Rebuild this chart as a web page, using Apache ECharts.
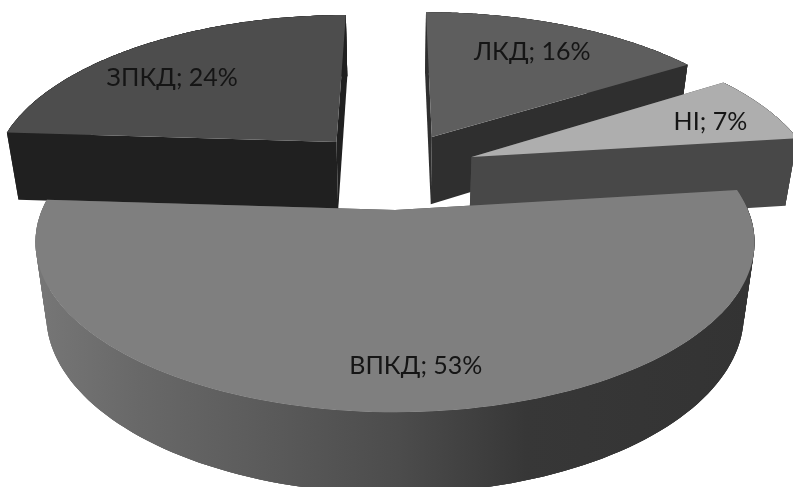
<!DOCTYPE html>
<html><head><meta charset="utf-8">
<style>html,body{margin:0;padding:0;background:#fff}#c{width:793px;height:487px}</style>
<script src="https://cdn.jsdelivr.net/npm/echarts@6/dist/echarts.min.js"></script>
</head><body><div id="c"></div>
<script>
// --- data ---
const categories = ['ЛКД', 'HI', 'ВПКД', 'ЗПКД'];
const shares = [16, 7, 53, 24];

// --- styles ---
const topColors = ['#5e5e5e', '#aeaeae', '#7f7f7f', '#4d4d4d'];
const wallColors = ['#2f2f2f', '#484848', '#4c4c4c', '#202020'];
// exploded offset, disc scale and label place of each slice, in pie-disc units
const explode = [[0.114, -0.487], [0.231, -0.345], [0, 0], [-0.18, -0.451]];
const discScale = [[1.045, 1.08], [1.02, 1.06], [1, 1], [1.03, 1.087]];
const labelAt = [[0.362, -0.694], [0.764, -0.253], [0.05, 0.806], [-0.565, -0.5]];

// --- projection of the pie plane ---
const VIEW = { cx: 395, cy: 210, rx: 353, ry: 163.8, k: -0.19, depth: 71, sx: 0.97, sy: 1.05 };
function project(u, v, bottom) {
  const d = 1 + VIEW.k * v;
  const px = VIEW.rx * u / d, py = VIEW.ry * v / d;
  return bottom
    ? [VIEW.cx + px * VIEW.sx, VIEW.cy + VIEW.depth + py * VIEW.sy]
    : [VIEW.cx + px, VIEW.cy + py];
}
const total = shares.reduce((a, b) => a + b, 0);
const bigWall = new echarts.graphic.LinearGradient(40, 0, 755, 0, [
  { offset: 0, color: '#767676' },
  { offset: 0.14, color: '#686868' },
  { offset: 0.3, color: '#5c5c5c' },
  { offset: 0.5, color: '#4c4c4c' },
  { offset: 0.68, color: '#373737' },
  { offset: 1, color: '#333333' }
], true);

function renderItem(params, api) {
  const i = params.dataIndex;
  let before = 0;
  for (let j = 0; j < i; j++) before += shares[j];
  const a0 = before / total * Math.PI * 2;
  const a1 = (before + api.value(1)) / total * Math.PI * 2;
  const [ou, ov] = explode[i];
  const [su, sv] = discScale[i];
  const base = Math.round((ov + 1) * 10) * 10;
  const rim = (bottom) => {
    const pts = [];
    const n = 120;
    for (let s = 0; s <= n; s++) {
      const a = a0 + (a1 - a0) * s / n;
      pts.push(project(ou + su * Math.sin(a), ov - sv * Math.cos(a), bottom));
    }
    return pts;
  };
  const rimTop = rim(false), rimBot = rim(true);
  const apexTop = project(ou, ov, false), apexBot = project(ou, ov, true);
  const poly = (points, fill, z2) => ({
    type: 'polygon', z2: base + z2, shape: { points }, style: { fill }
  });
  const isBig = api.value(1) / total > 0.5;
  const last = rimTop.length - 1;
  const children = [];
  // outer wall as overlapping pieces so the silhouette follows the side edges without seams
  const span = 3;
  for (let s = 0; s < last; s++) {
    const e = Math.min(s + span, last);
    const top = rimTop.slice(s, e + 1);
    const bot = rimBot.slice(s, e + 1).reverse();
    children.push(poly(top.concat(bot), isBig ? bigWall : wallColors[i], 1));
  }
  children.push(
    poly([apexTop, rimTop[0], rimBot[0], apexBot], wallColors[i], 2),
    poly([apexTop, rimTop[last], rimBot[last], apexBot], wallColors[i], 2),
    poly([apexTop].concat(rimTop), topColors[i], 3)
  );
  const lp = project(ou + labelAt[i][0], ov + labelAt[i][1], false);
  children.push({
    type: 'text', z2: base + 4, x: lp[0], y: lp[1],
    style: {
      text: categories[i] + '; ' + api.value(1) + '%',
      fill: '#151515', font: '400 25px Lato, "Open Sans", sans-serif',
      textAlign: 'center', textVerticalAlign: 'middle'
    }
  });
  return { type: 'group', children };
}

const chart = echarts.init(document.getElementById('c'), null, { renderer: 'canvas' });
chart.setOption({
  backgroundColor: '#ffffff',
  animation: false,
  series: [{
    type: 'custom',
    coordinateSystem: 'none',
    silent: true,
    renderItem,
    data: categories.map((c, i) => [c, shares[i]])
  }]
});
</script></body></html>
